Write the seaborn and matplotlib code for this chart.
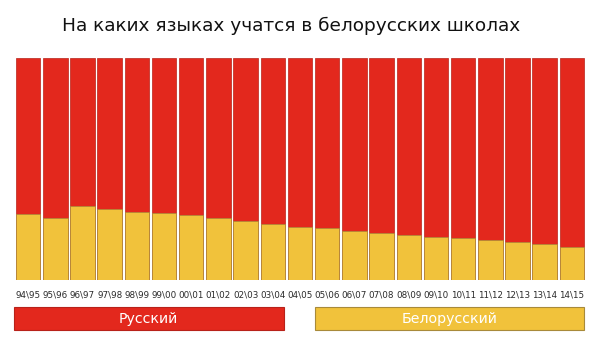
import matplotlib
matplotlib.use("Agg")
import matplotlib.pyplot as plt
from matplotlib.patches import Rectangle
import seaborn as sns
import pandas as pd

years = ["94\\95", "95\\96", "96\\97", "97\\98", "98\\99", "99\\00", "00\\01",
         "01\\02", "02\\03", "03\\04", "04\\05", "05\\06", "06\\07", "07\\08",
         "08\\09", "09\\10", "10\\11", "11\\12", "12\\13", "13\\14", "14\\15"]
belarusian = [29.4, 27.7, 33.2, 31.7, 30.5, 30.0, 29.0, 27.6, 26.3, 24.9, 23.7,
              23.2, 21.8, 21.0, 20.1, 19.2, 18.9, 17.8, 16.8, 15.8, 14.5]
russian = [round(100 - b, 1) for b in belarusian]

RED = "#e3281d"
RED_EDGE = "#b8221a"
YELLOW = "#f1c23b"
YELLOW_EDGE = "#a88a3a"

df = pd.DataFrame({"year": years, "bel": belarusian, "rus": russian})
df["total"] = df["bel"] + df["rus"]

sns.set_theme(style="white")
plt.rcParams["font.family"] = ["DejaVu Sans"]

fig = plt.figure(figsize=(6, 3.5), dpi=100)
ax = fig.add_axes([14.5 / 600, 1 - 279.5 / 350, 571 / 600, 222 / 350])

# Russian share sits on top: draw full stack in red, then Belarusian from the base
sns.barplot(data=df, x="year", y="total", color=RED, saturation=1, width=0.9,
            edgecolor=RED_EDGE, linewidth=0.5, ax=ax)
sns.barplot(data=df, x="year", y="bel", color=YELLOW, saturation=1, width=0.9,
            edgecolor=YELLOW_EDGE, linewidth=0.5, ax=ax)

ax.set_xlim(-0.5, len(years) - 0.5)
ax.set_ylim(0, 100)
ax.set_xlabel("")
ax.set_ylabel("")
ax.set_yticks([])
ax.tick_params(axis="x", length=0, pad=8, labelsize=6.3, labelcolor="#2a2a2a")
for s in ax.spines.values():
    s.set_visible(False)

fig.text(291 / 600, 1 - 26 / 350, "На каких языках учатся в белорусских школах",
         ha="center", va="center", fontsize=13.3, color="#111111")

# legend blocks
legend_items = [("Русский", RED, RED_EDGE, 13.5, 284),
                ("Белорусский", YELLOW, YELLOW_EDGE, 314.5, 584)]
for label, fc, ec, x0, x1 in legend_items:
    fig.patches.append(Rectangle((x0 / 600, 1 - 330 / 350), (x1 - x0) / 600, 23 / 350,
                                 transform=fig.transFigure, facecolor=fc,
                                 edgecolor=ec, linewidth=0.8))
    fig.text((x0 + x1) / 2 / 600, 1 - 318.5 / 350, label, ha="center", va="center",
             fontsize=10.2, color="white")

fig.savefig("out.png", dpi=100)
